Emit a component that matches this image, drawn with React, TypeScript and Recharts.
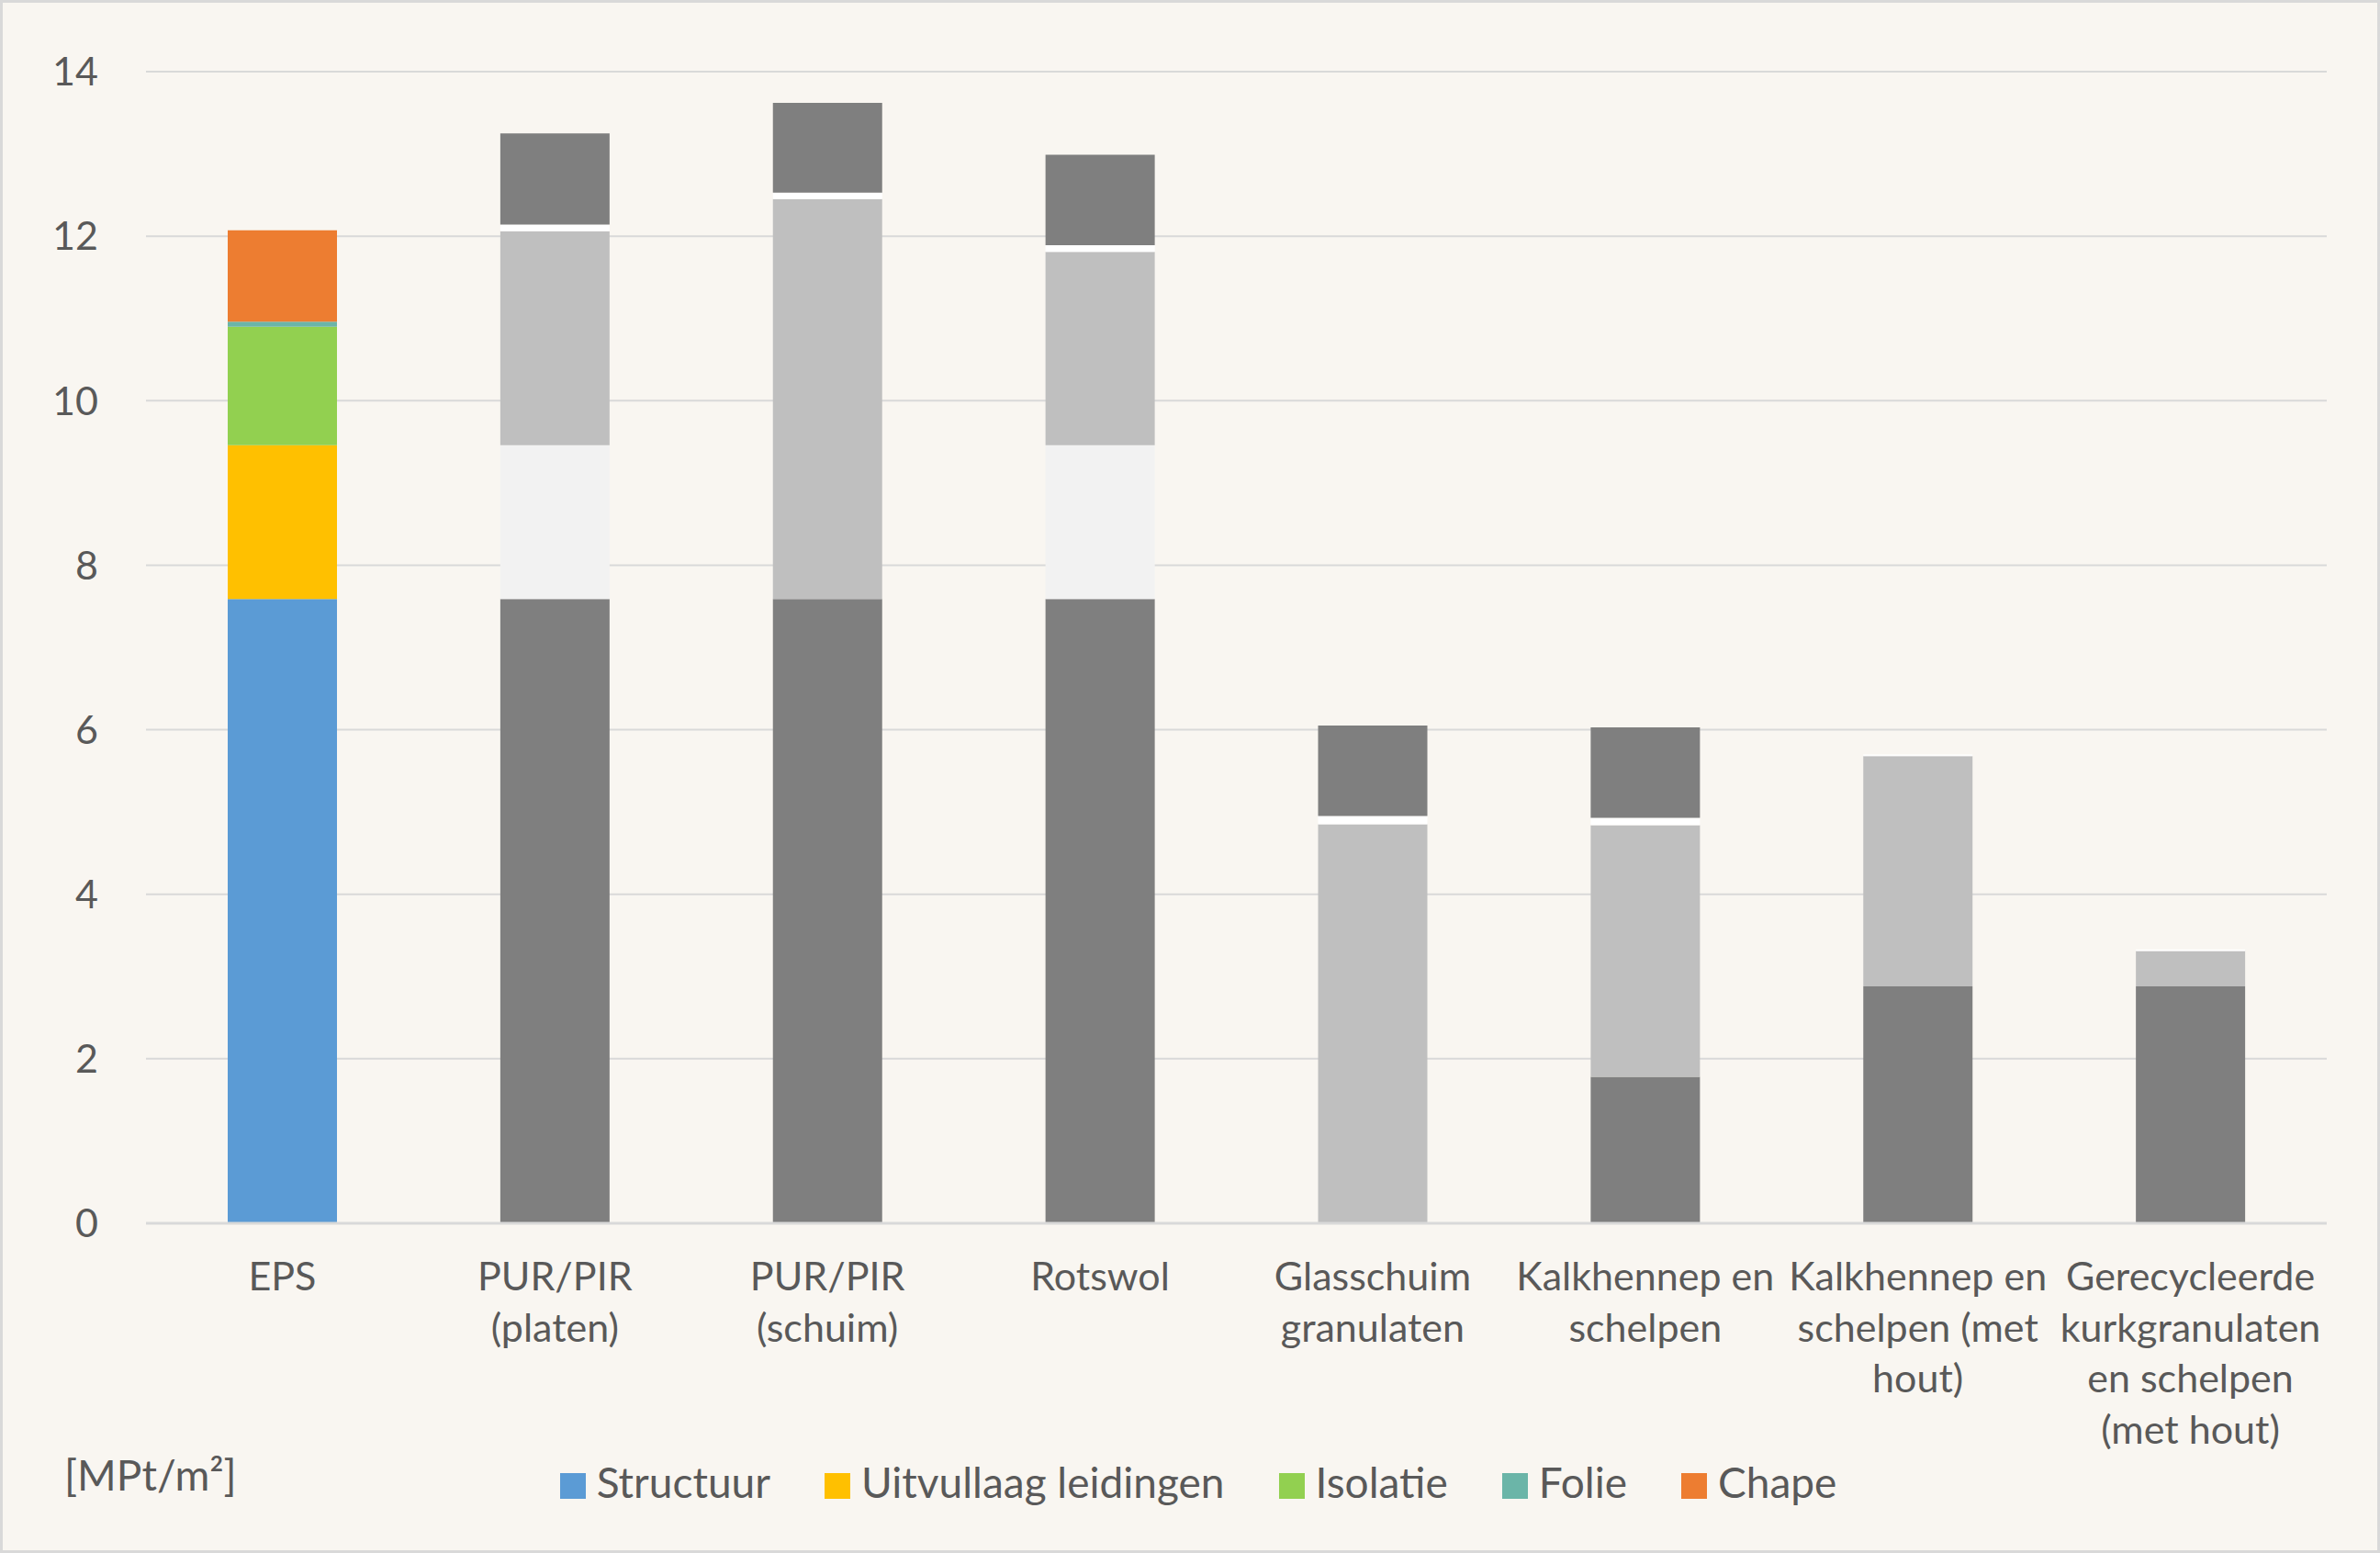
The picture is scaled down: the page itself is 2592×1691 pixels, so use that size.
import React from "react";
import {
  BarChart,
  Bar,
  Cell,
  XAxis,
  YAxis,
  CartesianGrid,
  Legend,
} from "recharts";

// --- Data (MPt/m²) ---
const categories = [
  "EPS",
  "PUR/PIR (platen)",
  "PUR/PIR (schuim)",
  "Rotswol",
  "Glasschuim granulaten",
  "Kalkhennep en schelpen",
  "Kalkhennep en schelpen (met hout)",
  "Gerecycleerde kurkgranulaten en schelpen (met hout)",
];

// how the category labels wrap under the axis
const tickLines = [
  ["EPS"],
  ["PUR/PIR", "(platen)"],
  ["PUR/PIR", "(schuim)"],
  ["Rotswol"],
  ["Glasschuim", "granulaten"],
  ["Kalkhennep en", "schelpen"],
  ["Kalkhennep en", "schelpen (met", "hout)"],
  ["Gerecycleerde", "kurkgranulaten", "en schelpen", "(met hout)"],
];

const structuur = [7.59, 7.59, 7.59, 7.59, 0, 1.78, 2.88, 2.88];
const uitvullaag = [1.87, 1.87, 0, 1.87, 0, 0, 0, 0];
const isolatie = [1.44, 2.6, 4.86, 2.35, 4.85, 3.06, 2.8, 0.43];
const folie = [0.06, 0.08, 0.08, 0.08, 0.1, 0.09, 0.02, 0.02];
const chape = [1.11, 1.11, 1.09, 1.1, 1.1, 1.1, 0, 0];

const yTicks = [0, 2, 4, 6, 8, 10, 12, 14];

const series = [
  { key: "structuur", name: "Structuur", color: "#5b9bd5", grey: "#7f7f7f" },
  { key: "uitvullaag", name: "Uitvullaag leidingen", color: "#ffc000", grey: "#f2f2f2" },
  { key: "isolatie", name: "Isolatie", color: "#92d050", grey: "#bfbfbf" },
  { key: "folie", name: "Folie", color: "#6bb5a8", grey: "#ffffff" },
  { key: "chape", name: "Chape", color: "#ed7d31", grey: "#7f7f7f" },
];

const data = categories.map((name, i) => ({
  name,
  structuur: structuur[i],
  uitvullaag: uitvullaag[i],
  isolatie: isolatie[i],
  folie: folie[i],
  chape: chape[i],
}));

const FONT = "Lato, 'Open Sans', sans-serif";
const TEXT = "#595959";

const CategoryTick = (props: any) => {
  const { x, y, payload } = props;
  const idx = categories.indexOf(payload.value);
  const lines = tickLines[idx] || [payload.value];
  return (
    <text
      x={x}
      y={y}
      textAnchor="middle"
      fill={TEXT}
      fontSize={43}
      fontFamily={FONT}
    >
      {lines.map((l, i) => (
        <tspan key={i} x={x} y={y + 73 + i * 55.7}>
          {l}
        </tspan>
      ))}
    </text>
  );
};

const LegendContent = () => (
  <div
    style={{
      display: "flex",
      justifyContent: "center",
      alignItems: "flex-start",
      fontFamily: FONT,
      fontSize: 46,
      lineHeight: "56px",
      color: TEXT,
      paddingLeft: 18,
    }}
  >
    {series.map((s, i) => (
      <div
        key={s.key}
        style={{
          display: "flex",
          alignItems: "flex-start",
          marginRight: i === series.length - 1 ? 0 : 59,
        }}
      >
        <span
          style={{
            width: 28,
            height: 28,
            marginTop: 18,
            marginRight: 12,
            background: s.color,
            display: "inline-block",
          }}
        />
        <span>{s.name}</span>
      </div>
    ))}
  </div>
);

export default function App() {
  return (
    <div
      style={{
        position: "fixed",
        left: 0,
        top: 0,
        width: 2592,
        height: 1691,
        background: "#f9f6f1",
        overflow: "hidden",
      }}
    >
      <BarChart
        width={2592}
        height={1691}
        data={data}
        margin={{ top: 78, right: 58, left: 0, bottom: 0 }}
      >
        <CartesianGrid vertical={false} stroke="#d9d9d9" strokeWidth={2} />
        <XAxis
          dataKey="name"
          height={359}
          interval={0}
          tickLine={false}
          tickSize={0}
          tickMargin={0}
          axisLine={{ stroke: "#d9d9d9", strokeWidth: 3 }}
          tick={<CategoryTick />}
        />
        <YAxis
          width={159}
          domain={[0, 14]}
          ticks={yTicks}
          axisLine={false}
          tickLine={false}
          tickSize={0}
          tickMargin={52}
          tick={{ fill: TEXT, fontSize: 43, fontFamily: FONT }}
        />
        <Legend
          layout="horizontal"
          verticalAlign="middle"
          align="center"
          content={<LegendContent />}
          wrapperStyle={{ top: 1586, left: 0, width: 2592, height: 56 }}
        />
        {series.map((s) => (
          <Bar
            key={s.key}
            dataKey={s.key}
            name={s.name}
            stackId="a"
            fill={s.color}
            barSize={119}
            isAnimationActive={false}
          >
            {data.map((d, i) => (
              <Cell key={d.name} fill={i === 0 ? s.color : s.grey} />
            ))}
          </Bar>
        ))}
      </BarChart>
      <div
        style={{
          position: "absolute",
          left: 70,
          top: 1578,
          height: 56,
          lineHeight: "56px",
          fontFamily: FONT,
          fontSize: 46,
          color: TEXT,
        }}
      >
        [MPt/m²]
      </div>
      <div
        style={{
          position: "absolute",
          inset: 0,
          border: "3px solid #d9d9d9",
          boxSizing: "border-box",
          pointerEvents: "none",
        }}
      />
    </div>
  );
}
